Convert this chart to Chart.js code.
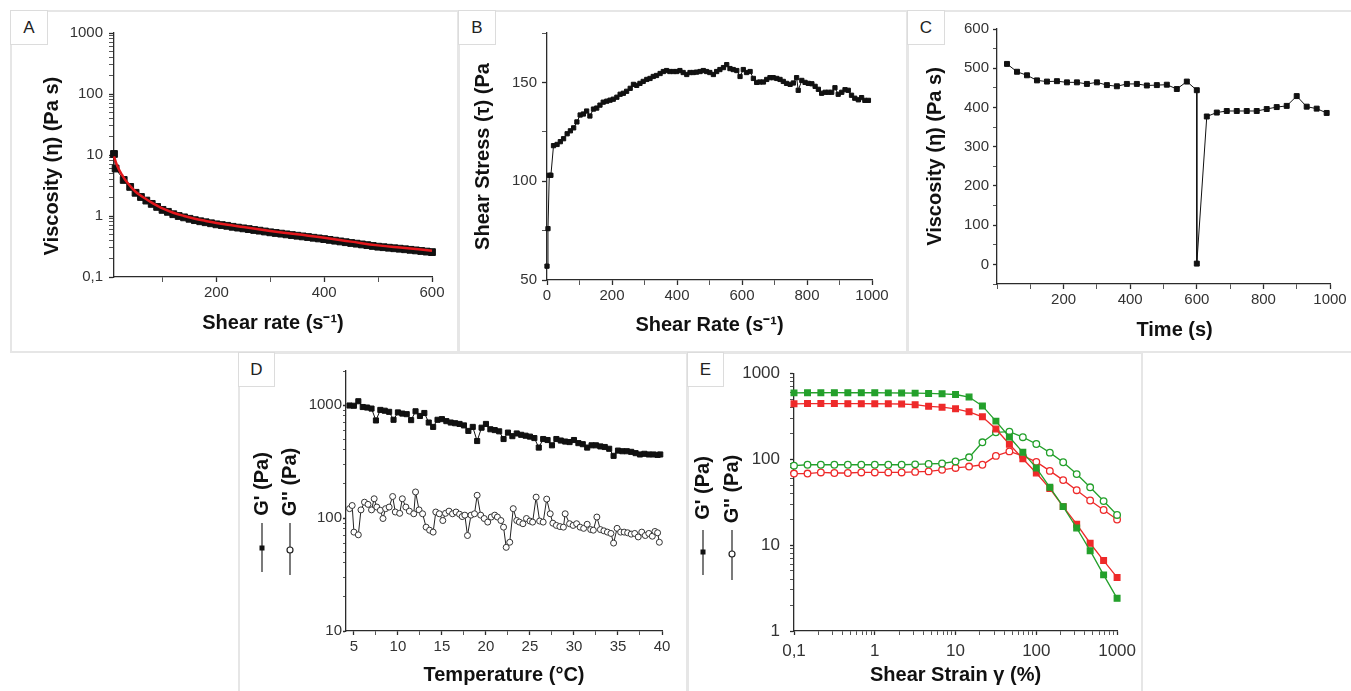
<!DOCTYPE html>
<html>
<head>
<meta charset="utf-8">
<script src="https://cdn.jsdelivr.net/npm/chart.js@4.4.0/dist/chart.umd.min.js"></script>
<style>
  body { margin: 0; width: 1351px; height: 691px; overflow: hidden; position: relative; background: #fff;
         font-family: "Liberation Sans", Arial, sans-serif; }
  .frame { position: absolute; border: 2px solid #e6e6e6; box-sizing: border-box; }
  .tag { position: absolute; border: 1.5px solid #dcdcdc; background: #fff; box-sizing: border-box;
         font-size: 17px; color: #222; text-align: center; }
  canvas { position: absolute; }
</style>
</head>
<body>
<div class="frame" style="left:10px;top:10px;width:449px;height:343px"></div>
<div class="frame" style="left:458px;top:10px;width:450px;height:343px"></div>
<div class="frame" style="left:907px;top:10px;width:450px;height:343px"></div>
<div class="frame" style="left:238px;top:352px;width:450px;height:345px"></div>
<div class="frame" style="left:687px;top:352px;width:456px;height:345px"></div>

<canvas id="chartA" width="448" height="342" style="left:10px;top:10px"></canvas>
<canvas id="chartB" width="449" height="342" style="left:458px;top:10px"></canvas>
<canvas id="chartC" width="444" height="342" style="left:907px;top:10px"></canvas>
<canvas id="chartD" width="449" height="338" style="left:238px;top:353px"></canvas>
<canvas id="chartE" width="455" height="338" style="left:687px;top:353px"></canvas>

<div class="tag" style="left:10px;top:10px;width:38px;height:35px;line-height:33px">A</div>
<div class="tag" style="left:458px;top:10px;width:38px;height:35px;line-height:33px">B</div>
<div class="tag" style="left:907px;top:10px;width:38px;height:35px;line-height:33px">C</div>
<div class="tag" style="left:238px;top:352px;width:37px;height:35px;line-height:33px">D</div>
<div class="tag" style="left:687px;top:352px;width:37px;height:35px;line-height:33px">E</div>

<script>
// ---- A: viscosity vs shear rate (log y) ----
const rateA = [10, 13, 28, 40, 50, 60, 70, 80, 90, 100, 110, 120, 130, 140, 150, 160, 170, 180, 190, 200,
  210, 220, 230, 240, 250, 260, 270, 280, 290, 300, 310, 320, 330, 340, 350, 360, 370, 380, 390, 400,
  410, 420, 430, 440, 450, 460, 470, 480, 490, 500, 510, 520, 530, 540, 550, 560, 570, 580, 590, 600]
const viscA = [10.4, 6.0, 3.9, 3.0, 2.4, 2.05, 1.79, 1.58, 1.41, 1.26, 1.17, 1.07, 1.0, 0.95, 0.9, 0.855, 0.82, 0.79, 0.76, 0.73,
  0.71, 0.69, 0.665, 0.645, 0.627, 0.61, 0.59, 0.575, 0.557, 0.54, 0.527, 0.514, 0.5, 0.487, 0.475, 0.463, 0.452, 0.44, 0.429, 0.418,
  0.406, 0.394, 0.383, 0.372, 0.361, 0.352, 0.342, 0.333, 0.323, 0.314, 0.308, 0.302, 0.296, 0.291, 0.285, 0.279, 0.273, 0.267, 0.261, 0.256]
const fitRateA = [10, 15, 20, 25, 30, 40, 50, 60, 70, 80, 90, 100, 120, 140, 160, 180, 200, 250, 300, 350, 400, 450, 500, 550, 600]
const fitViscA = [9.5, 7.0, 5.6, 4.7, 4.0, 3.1, 2.5, 2.15, 1.88, 1.66, 1.48, 1.33, 1.13, 1.0, 0.9, 0.83, 0.77, 0.66, 0.57, 0.5, 0.44, 0.38, 0.33, 0.3, 0.27]
const xTicksA = [200, 400, 600], xLabelsA = ['200', '400', '600']
const yTicksA = [0.1, 1, 10, 100, 1000], yLabelsA = ['0,1', '1', '10', '100', '1000']

// ---- B: shear stress vs shear rate ----
const rateB = [0, 3, 7, 12, 20, 31, 41, 51, 62, 72, 82, 92, 102, 112, 122, 132, 143, 153, 163, 173,
  184, 194, 204, 215, 225, 235, 245, 256, 266, 276, 286, 296, 307, 317, 327, 337, 348, 358, 368, 378,
  389, 399, 409, 419, 430, 440, 450, 460, 471, 481, 491, 501, 512, 522, 532, 543, 553, 563, 573, 584,
  594, 604, 614, 625, 635, 645, 655, 666, 676, 686, 696, 707, 717, 727, 737, 748, 758, 768, 773, 784,
  794, 804, 815, 825, 835, 845, 856, 866, 876, 886, 896, 907, 917, 927, 937, 947, 958, 968, 978, 989]
const stressB = [57, 76, 103, 103, 118, 118.6, 120, 121.5, 124, 125.5, 127, 130, 133.5, 134, 135.5, 133, 136.5, 137, 138.5, 140,
  140.5, 141, 141.5, 142.5, 144, 144.5, 145.5, 147, 149, 148.5, 149.5, 150.5, 151.5, 152, 153, 153.5, 154.5, 155.5, 156, 155.5,
  155.5, 155.5, 156, 155, 154, 155, 155, 155.2, 155.5, 156, 155.5, 155, 154, 155.5, 156.5, 157.5, 159, 157, 156.5, 156,
  153, 156.5, 155, 155.5, 152, 150, 150.2, 150.2, 151.5, 152.4, 152.4, 152, 151.5, 150.5, 149.5, 149, 149.7, 152.4, 146, 151,
  150, 149.5, 149.3, 148, 146.5, 144.5, 145, 145, 145, 147.3, 144, 145, 146.3, 146, 143.5, 142, 141.2, 142.3, 140.9, 140.9]
const xTicksB = [0, 200, 400, 600, 800, 1000], xLabelsB = ['0', '200', '400', '600', '800', '1000']
const yTicksB = [50, 100, 150], yLabelsB = ['50', '100', '150']

// ---- C: viscosity vs time (recovery test) ----
const timeC = [30, 60, 90, 120, 150, 180, 210, 240, 270, 300, 330, 360, 390, 420, 450, 480, 510, 540, 570, 600,
  600, 630, 660, 690, 720, 750, 780, 810, 840, 870, 900, 930, 960, 990]
const viscC = [511, 491, 482, 469, 466, 467, 464, 464, 460, 464, 457, 454, 460, 460, 456, 457, 458, 447, 466, 444,
  2, 377, 387, 391, 391, 391, 391, 396, 401, 404, 429, 402, 397, 386]
const xTicksC = [200, 400, 600, 800, 1000], xLabelsC = ['200', '400', '600', '800', '1000']
const yTicksC = [0, 100, 200, 300, 400, 500, 600], yLabelsC = ['0', '100', '200', '300', '400', '500', '600']

// ---- D: temperature sweep ----
const tempGp = [4.5, 5.0, 5.5, 6.0, 6.5, 7.0, 7.5, 8.0, 8.5, 9.0, 9.5, 10.0, 10.5, 11.0, 11.5, 12.0, 12.5, 13.0, 13.5, 14.0,
  14.5, 15.0, 15.5, 16.0, 16.5, 17.0, 17.5, 18.0, 18.5, 19.0, 19.5, 20.0, 20.5, 21.0, 21.5, 22.0, 22.5, 23.0, 23.5, 24.0,
  24.5, 25.0, 25.5, 26.0, 26.5, 27.0, 27.5, 28.0, 28.5, 29.0, 29.5, 30.0, 30.5, 31.0, 31.5, 32.0, 32.5, 33.0, 33.5, 34.0,
  34.5, 35.0, 35.5, 36.0, 36.5, 37.0, 37.5, 38.0, 38.5, 39.0, 39.5, 39.8]
const gpD = [990, 985, 1080, 960, 950, 930, 730, 905, 890, 870, 740, 860, 840, 830, 735, 880, 800, 850, 700, 640,
  740, 750, 720, 700, 690, 680, 660, 590, 640, 480, 630, 680, 610, 600, 585, 500, 570, 530, 560, 545,
  535, 525, 510, 420, 500, 490, 440, 500, 485, 475, 470, 490, 460, 450, 420, 440, 440, 430, 425, 410,
  355, 395, 390, 390, 385, 375, 365, 370, 365, 365, 362, 365]
const tempGpp = [4.5, 4.8, 5.0, 5.5, 5.8, 6.2, 6.6, 7.0, 7.3, 7.6, 8.0, 8.3, 8.6, 9.0, 9.4, 9.7, 10.2, 10.5, 10.9, 11.3,
  11.8, 12.0, 12.4, 12.8, 13.2, 13.6, 14.0, 14.3, 14.7, 15.1, 15.4, 15.8, 16.2, 16.6, 17.0, 17.3, 17.6, 17.9, 18.3, 18.7,
  19.0, 19.4, 19.8, 20.2, 20.6, 21.0, 21.3, 21.7, 22.0, 22.3, 22.7, 23.1, 23.5, 23.8, 24.2, 24.6, 25.0, 25.3, 25.7, 26.1,
  26.5, 26.9, 27.3, 27.6, 28.0, 28.4, 28.8, 29.0, 29.5, 29.9, 30.3, 30.7, 31.1, 31.5, 31.9, 32.2, 32.6, 33.0, 33.4, 33.8,
  34.2, 34.5, 34.9, 35.3, 35.7, 36.1, 36.5, 36.9, 37.3, 37.7, 38.1, 38.5, 38.9, 39.2, 39.5, 39.7]
const gppD = [121, 129, 75, 71, 118, 138, 132, 118, 148, 125, 117, 99, 121, 125, 155, 113, 110, 148, 125, 115,
  109, 170, 118, 109, 83, 78, 75, 113, 109, 95, 110, 115, 109, 113, 108, 103, 106, 70, 106, 109,
  159, 106, 99, 92, 102, 106, 102, 95, 83, 55, 61, 121, 95, 92, 89, 99, 94, 92, 153, 94,
  92, 147, 109, 90, 86, 84, 83, 109, 89, 86, 89, 83, 81, 88, 79, 78, 102, 79, 77, 75,
  73, 60, 81, 75, 75, 74, 72, 73, 68, 75, 70, 73, 69, 76, 74, 61]
const xTicksD = [5, 10, 15, 20, 25, 30, 35, 40], xLabelsD = ['5', '10', '15', '20', '25', '30', '35', '40']
const yTicksD = [10, 100, 1000], yLabelsD = ['10', '100', '1000']

// ---- E: amplitude sweep ----
const strainE = [0.1, 0.147, 0.215, 0.316, 0.464, 0.681, 1, 1.47, 2.15, 3.16, 4.64, 6.81, 10, 14.7, 21.5, 31.6, 46.4, 68.1,
  100, 147, 215, 316, 464, 681, 1000]
const gpGreen = [590, 592, 592, 593, 592, 592, 592, 590, 588, 586, 582, 575, 565, 528, 416, 277, 181, 120, 79, 47, 28, 15.8, 8.6, 4.5, 2.4]
const gpRed = [440, 443, 443, 443, 442, 442, 441, 440, 438, 430, 412, 402, 385, 355, 311, 224, 149, 101, 69, 45.5, 28, 17.5, 10.5, 6.6, 4.2]
const gppGreen = [84, 86, 86, 86, 86, 86, 86, 86, 86, 87, 88, 89, 94, 105, 157, 205, 209, 180, 150, 119, 92, 67, 47, 32.5, 22.4]
const gppRed = [68, 68, 70, 69, 69, 70, 70, 70, 70, 71, 72, 75, 79, 82, 86, 109, 123, 109, 93, 73, 57, 43.5, 33, 25.6, 19.8]
const xTicksE = [0.1, 1, 10, 100, 1000], xLabelsE = ['0,1', '1', '10', '100', '1000']
const yTicksE = [1, 10, 100, 1000], yLabelsE = ['1', '10', '100', '1000']

const FONT = "'Liberation Sans', Arial, Helvetica, sans-serif"
const INK = '#2b2b2b'
const GREEN = '#23a02b', RED = '#ee2a2a'
Chart.defaults.font.family = FONT

const pts = (xs, ys) => xs.map((x, i) => ({ x, y: ys[i] }))

function axis(o) {
  const horizontal = o.pos === 'x'
  const a = {
    type: o.type, min: o.min, max: o.max,
    border: { display: true, color: INK, width: 1.3 },
    grid: { drawOnChartArea: false, drawTicks: true, tickLength: o.tl, tickColor: INK,
      tickWidth: c => (c.tick && c.tick.label ? 1.3 : 0.8) },
    ticks: { autoSkip: false, maxRotation: 0, minRotation: 0, includeBounds: false,
      padding: o.pad, color: '#333', font: { family: FONT, size: o.fs || 15 },
      callback: v => {
        const i = o.majors.findIndex(m => Math.abs(m - v) <= Math.abs(m) * 1e-6 + 1e-9)
        return i < 0 ? '' : o.labels[i]
      } },
    afterFit: s => { if (horizontal) s.height = o.size; else s.width = o.size }
  }
  if (o.type === 'logarithmic') {
    // decade ticks with 2..9 minor marks
    a.afterBuildTicks = s => {
      const t = []
      for (let e = Math.floor(Math.log10(o.min)); e <= Math.ceil(Math.log10(o.max)); e++) {
        for (let k = 1; k < 10; k++) {
          const v = +(k * Math.pow(10, e)).toPrecision(6)
          if (v >= o.min * 0.999 && v <= o.max * 1.001) t.push({ value: v })
        }
      }
      s.ticks = t
    }
  } else {
    // every minor step inside the range; labels only on the majors
    a.afterBuildTicks = s => {
      const t = []
      for (let v = Math.ceil(o.min / o.step - 1e-9) * o.step; v <= o.max + 1e-9; v += o.step) t.push({ value: +v.toFixed(6) })
      s.ticks = t
    }
  }
  if (o.title) {
    a.title = { display: true, text: o.title, color: '#111', font: { family: FONT, size: 20, weight: 'bold' },
      padding: horizontal ? { top: 0, bottom: o.titlePad } : { top: o.titlePad, bottom: 0 } }
  }
  return a
}

function options(padding, x, y) {
  return {
    responsive: false, animation: false, events: [],
    layout: { padding, autoPadding: false },
    plugins: { legend: { display: false }, tooltip: { enabled: false } },
    scales: { x, y }
  }
}

// rotated "G' (Pa)" style keys drawn beside the y axis
function sideLegend(items) {
  return {
    id: 'sideLegend',
    afterDraw(chart) {
      const ctx = chart.ctx
      items.forEach(it => {
        ctx.save()
        ctx.strokeStyle = '#222'
        ctx.lineWidth = 1.2
        ctx.beginPath(); ctx.moveTo(it.x, it.lineTop); ctx.lineTo(it.x, it.lineBottom); ctx.stroke()
        if (it.filled) {
          ctx.fillStyle = '#111'
          ctx.fillRect(it.x - 2.5, it.mark - 2.5, 5, 5)
        } else {
          ctx.fillStyle = '#fff'
          ctx.beginPath(); ctx.arc(it.x, it.mark, 3, 0, Math.PI * 2); ctx.fill(); ctx.stroke()
        }
        ctx.translate(it.x, it.textY)
        ctx.rotate(-Math.PI / 2)
        ctx.font = 'bold 20px ' + FONT
        ctx.fillStyle = '#111'
        ctx.textAlign = 'center'
        ctx.textBaseline = 'middle'
        ctx.fillText(it.text, 0, 0)
        ctx.restore()
      })
    }
  }
}

// A
new Chart(document.getElementById('chartA'), {
  type: 'scatter',
  data: { datasets: [
    { data: pts(fitRateA, fitViscA), showLine: true, borderColor: '#e3171c', borderWidth: 2.5, pointRadius: 0,
      tension: 0.4, clip: false },
    { data: pts(rateA, viscA), showLine: true, borderColor: '#111', borderWidth: 1, pointStyle: 'rect',
      pointRadius: 4.8, backgroundColor: '#111', clip: false }
  ] },
  options: options({ left: 0, right: 26, top: 23, bottom: 0 },
    axis({ pos: 'x', type: 'linear', min: 10, max: 600, step: 100, majors: xTicksA, labels: xLabelsA,
      size: 75, tl: 5, pad: 2, title: 'Shear rate (s\u207B\u00B9)', titlePad: 17 }),
    axis({ pos: 'y', type: 'logarithmic', min: 0.1, max: 1000, majors: yTicksA, labels: yLabelsA,
      size: 104, tl: 5, pad: 6, title: 'Viscosity (\u03B7) (Pa s)    ', titlePad: 30 }))
})

// B
new Chart(document.getElementById('chartB'), {
  type: 'scatter',
  data: { datasets: [
    { data: pts(rateB, stressB), showLine: true, borderColor: '#111', borderWidth: 1, pointStyle: 'rect',
      pointRadius: 3, backgroundColor: '#111', clip: false }
  ] },
  options: options({ left: 0, right: 35, top: 23, bottom: 0 },
    axis({ pos: 'x', type: 'linear', min: 0, max: 1000, step: 100, majors: xTicksB, labels: xLabelsB,
      size: 72, tl: 5, pad: 2, title: 'Shear Rate (s\u207B\u00B9)', titlePad: 15 }),
    axis({ pos: 'y', type: 'linear', min: 50, max: 175, step: 25, majors: yTicksB, labels: yLabelsB,
      size: 89, tl: 5, pad: 5, title: 'Shear Stress (\u03C4) (Pa', titlePad: 13 }))
})

// C
new Chart(document.getElementById('chartC'), {
  type: 'scatter',
  data: { datasets: [
    { data: pts(timeC, viscC), showLine: true, borderColor: '#111', borderWidth: 1, pointStyle: 'rect',
      pointRadius: 3.5, backgroundColor: '#111', clip: false }
  ] },
  options: options({ left: 0, right: 21, top: 19, bottom: 0 },
    axis({ pos: 'x', type: 'linear', min: 0, max: 1000, step: 100, majors: xTicksC, labels: xLabelsC,
      size: 68, tl: 5, pad: 2, title: '    Time (s)', titlePad: 10 }),
    axis({ pos: 'y', type: 'linear', min: -50, max: 600, step: 50, majors: yTicksC, labels: yLabelsC,
      size: 90, tl: 4, pad: 4, title: 'Viscosity (\u03B7) (Pa s)', titlePad: 16 }))
})

// D
new Chart(document.getElementById('chartD'), {
  type: 'scatter',
  data: { datasets: [
    { data: pts(tempGp, gpD), showLine: true, borderColor: '#111', borderWidth: 1, pointStyle: 'rect',
      pointRadius: 3.6, backgroundColor: '#111', clip: false },
    { data: pts(tempGpp, gppD), showLine: true, borderColor: '#222', borderWidth: 1, pointStyle: 'circle',
      pointRadius: 3, backgroundColor: '#fff', pointBorderColor: '#333', clip: false }
  ] },
  options: options({ left: 0, right: 25, top: 18, bottom: 0 },
    axis({ pos: 'x', type: 'linear', min: 4.1, max: 40, step: 2.5, majors: xTicksD, labels: xLabelsD,
      size: 60, tl: 4, pad: 3, title: 'Temperature (\u00B0C)', titlePad: 4 }),
    axis({ pos: 'y', type: 'logarithmic', min: 10, max: 2000, majors: yTicksD, labels: yLabelsD,
      size: 108, tl: 3, pad: 1 })),
  plugins: [sideLegend([
    { x: 24, textY: 131, lineTop: 170, lineBottom: 219, mark: 195, filled: true, text: "G' (Pa)" },
    { x: 52, textY: 129, lineTop: 170, lineBottom: 222, mark: 197, filled: false, text: "G'' (Pa)" }
  ])]
})

// E
new Chart(document.getElementById('chartE'), {
  type: 'scatter',
  data: { datasets: [
    { data: pts(strainE, gpGreen), showLine: true, borderColor: GREEN, borderWidth: 1.3, pointStyle: 'rect',
      pointRadius: 4, backgroundColor: GREEN, clip: false },
    { data: pts(strainE, gpRed), showLine: true, borderColor: RED, borderWidth: 1.3, pointStyle: 'rect',
      pointRadius: 4, backgroundColor: RED, clip: false },
    { data: pts(strainE, gppGreen), showLine: true, borderColor: GREEN, borderWidth: 1.3, pointStyle: 'circle',
      pointRadius: 3.3, backgroundColor: '#fff', pointBorderColor: GREEN, clip: false },
    { data: pts(strainE, gppRed), showLine: true, borderColor: RED, borderWidth: 1.3, pointStyle: 'circle',
      pointRadius: 3.3, backgroundColor: '#fff', pointBorderColor: RED, clip: false }
  ] },
  options: options({ left: 0, right: 22, top: 18, bottom: 0 },
    axis({ pos: 'x', type: 'logarithmic', min: 0.1, max: 1000, majors: xTicksE, labels: xLabelsE,
      size: 60, tl: 4, pad: 6, fs: 17, title: 'Shear Strain \u03B3 (%)', titlePad: 4 }),
    axis({ pos: 'y', type: 'logarithmic', min: 1, max: 1000, majors: yTicksE, labels: yLabelsE,
      size: 107, tl: 4, pad: 10, fs: 17 })),
  plugins: [sideLegend([
    { x: 16, textY: 135, lineTop: 177, lineBottom: 222, mark: 199, filled: true, text: "G' (Pa)" },
    { x: 45, textY: 136, lineTop: 177, lineBottom: 227, mark: 201, filled: false, text: "G'' (Pa)" }
  ])]
})
</script>
</body>
</html>
